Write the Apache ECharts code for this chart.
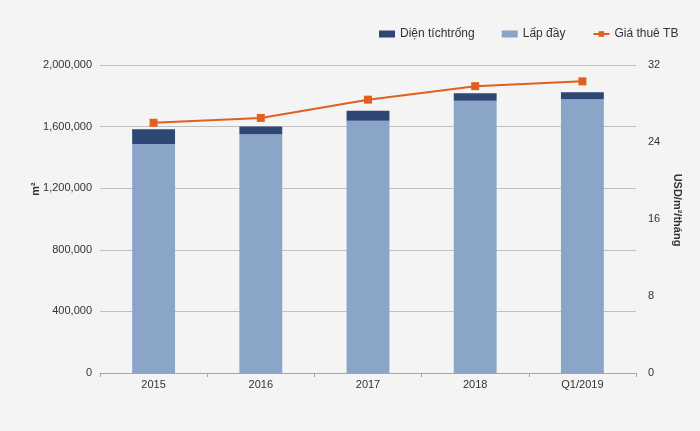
<!DOCTYPE html>
<html><head><meta charset="utf-8">
<script src="https://cdn.jsdelivr.net/npm/echarts@6/dist/echarts.min.js"></script>
<style>html,body{margin:0;padding:0;background:#f4f4f4;}#c{width:700px;height:431px;}</style>
</head><body><div id="c"></div>
<script>
const categories = ['2015','2016','2017','2018','Q1/2019'];
const occupied = [1487000, 1550000, 1638000, 1768000, 1777000];
const vacant = [95000, 50000, 65000, 48000, 46000];
const rent = [26.0, 26.5, 28.4, 29.8, 30.3];
const leftTicks = [0, 400000, 800000, 1200000, 1600000, 2000000];
const rightTicks = [0, 8, 16, 24, 32];

const chart = echarts.init(document.getElementById('c'));
const font = 'Liberation Sans, Arial, sans-serif';
chart.setOption({
  backgroundColor: '#f4f4f4',
  animation: false,
  textStyle: {fontFamily: font, color: '#333'},
  legend: {
    left: 374, top: 23, itemGap: 27, itemWidth: 16, itemHeight: 7,
    textStyle: {fontSize: 12, color: '#333', fontFamily: font},
    data: [
      {name: 'Diện tíchtrống', icon: 'rect'},
      {name: 'Lấp đầy', icon: 'rect'},
      {name: 'Giá thuê TB'}
    ]
  },
  grid: {left: 100, right: 64, top: 65, bottom: 58},
  xAxis: {
    type: 'category', data: categories,
    axisLine: {lineStyle: {color: '#a6a6a6'}},
    axisTick: {show: true, length: 4, lineStyle: {color: '#a6a6a6'}},
    axisLabel: {fontSize: 11, color: '#333', margin: 6, fontFamily: font}
  },
  yAxis: [
    {
      type: 'value', min: 0, max: leftTicks[leftTicks.length-1], interval: 400000,
      name: 'm²', nameLocation: 'middle', nameGap: 59, nameRotate: 90, nameMoveOverlap: false,
      nameTextStyle: {fontSize: 11, fontWeight: 'bold', color: '#333', fontFamily: font, padding: [0, 0, 0, 60]},
      axisLine: {show: false}, axisTick: {show: false},
      axisLabel: {fontSize: 11, color: '#333', margin: 8, fontFamily: font,
        formatter: v => v.toLocaleString('en-US')},
      splitLine: {lineStyle: {color: '#c0c0c0'}}
    },
    {
      type: 'value', min: 0, max: rightTicks[rightTicks.length-1], interval: 8,
      name: 'USD/m²/tháng', nameLocation: 'middle', nameGap: 36, nameRotate: -90, nameMoveOverlap: false,
      nameTextStyle: {fontSize: 11, fontWeight: 'bold', color: '#333', fontFamily: font, padding: [0, 18, 0, 0]},
      axisLine: {show: false}, axisTick: {show: false},
      axisLabel: {fontSize: 11, color: '#333', margin: 12, fontFamily: font},
      splitLine: {show: false}
    }
  ],
  series: [
    {name: 'Lấp đầy', type: 'bar', stack: 'a', data: occupied, barWidth: '40%',
      itemStyle: {color: '#8ba5c9'}},
    {name: 'Diện tíchtrống', type: 'bar', stack: 'a', data: vacant, barWidth: '40%',
      itemStyle: {color: '#2e4775'}},
    {name: 'Giá thuê TB', type: 'line', yAxisIndex: 1, data: rent,
      symbol: 'rect', symbolSize: 8, lineStyle: {color: '#e0601f', width: 2},
      itemStyle: {color: '#e0601f'}}
  ]
});
</script></body></html>
